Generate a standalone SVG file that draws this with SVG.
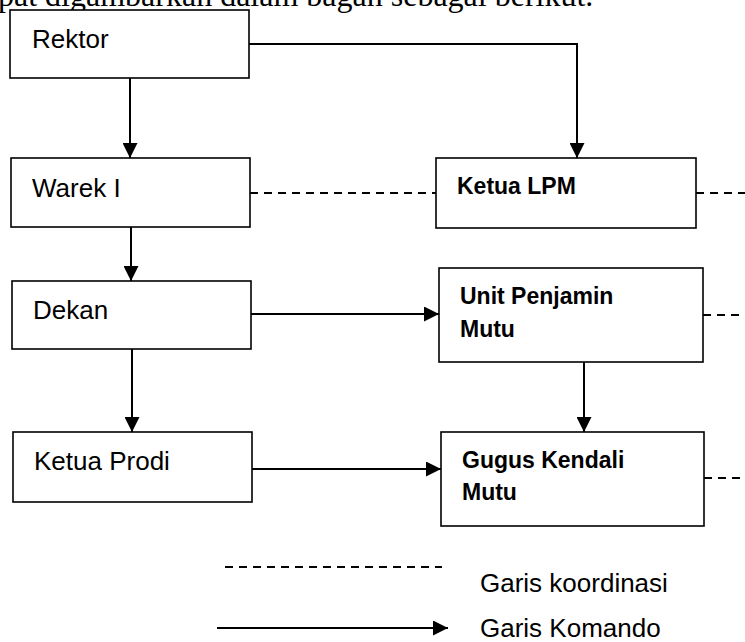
<svg xmlns="http://www.w3.org/2000/svg" width="745" height="642" viewBox="0 0 745 642">
<defs>
<style>
.box{fill:#fff;stroke:#000;stroke-width:1.6}
.lbl{font-family:"Liberation Sans",Arial,sans-serif;font-size:26px;fill:#000}
.blbl{font-family:"Liberation Sans",Arial,sans-serif;font-size:23px;font-weight:bold;fill:#000}
.cmd{fill:none;stroke:#000;stroke-width:2}
.crd{fill:none;stroke:#000;stroke-width:2;stroke-dasharray:8 6}
.intro{font-family:"Liberation Serif","Times New Roman",serif;font-size:32px;fill:#000}
</style>
<marker id="ah" markerUnits="userSpaceOnUse" markerWidth="15" markerHeight="15" refX="15" refY="7.5" orient="auto">
<path d="M0,0 L15,7.5 L0,15 z" fill="#000"/>
</marker>
</defs>
<rect width="745" height="642" fill="#fff"/>
<text class="intro" x="-2" y="6">pat digambarkan dalam bagan sebagai berikut.</text>
<g id="connectors">
<path class="cmd" d="M249,44 H577 V158" marker-end="url(#ah)"/>
<path class="cmd" d="M130,78 V158" marker-end="url(#ah)"/>
<path class="cmd" d="M131,227 V281" marker-end="url(#ah)"/>
<path class="cmd" d="M132,349 V432" marker-end="url(#ah)"/>
<path class="cmd" d="M251,314 H439" marker-end="url(#ah)"/>
<path class="cmd" d="M252,469 H441" marker-end="url(#ah)"/>
<path class="cmd" d="M584,362 V432" marker-end="url(#ah)"/>
<path class="crd" d="M250,193 H436"/>
<path class="crd" d="M696,193 H745"/>
<path class="crd" d="M703,315 H745"/>
<path class="crd" d="M704,478 H745"/>
</g>
<g id="rektor"><rect class="box" x="10" y="10" width="239" height="68"/><text class="lbl" x="32" y="48">Rektor</text></g>
<g id="warek"><rect class="box" x="11" y="158" width="239" height="69"/><text class="lbl" x="32" y="197">Warek I</text></g>
<g id="dekan"><rect class="box" x="12" y="281" width="239" height="68"/><text class="lbl" x="33" y="319">Dekan</text></g>
<g id="prodi"><rect class="box" x="13" y="432" width="239" height="70"/><text class="lbl" x="34" y="470">Ketua Prodi</text></g>
<g id="lpm"><rect class="box" x="436" y="158" width="260" height="70"/><text class="blbl" x="457" y="194">Ketua LPM</text></g>
<g id="upm"><rect class="box" x="439" y="268" width="264" height="94"/><text class="blbl" x="460" y="304">Unit Penjamin</text><text class="blbl" x="460" y="337">Mutu</text></g>
<g id="gkm"><rect class="box" x="441" y="432" width="263" height="94"/><text class="blbl" x="462" y="468">Gugus Kendali</text><text class="blbl" x="462" y="500">Mutu</text></g>
<g id="legend">
<path class="crd" d="M225,567 H442"/>
<path class="cmd" d="M217,628 H448" marker-end="url(#ah)"/>
<text class="lbl" x="480" y="592">Garis koordinasi</text>
<text class="lbl" x="480" y="637">Garis Komando</text>
</g>
</svg>
